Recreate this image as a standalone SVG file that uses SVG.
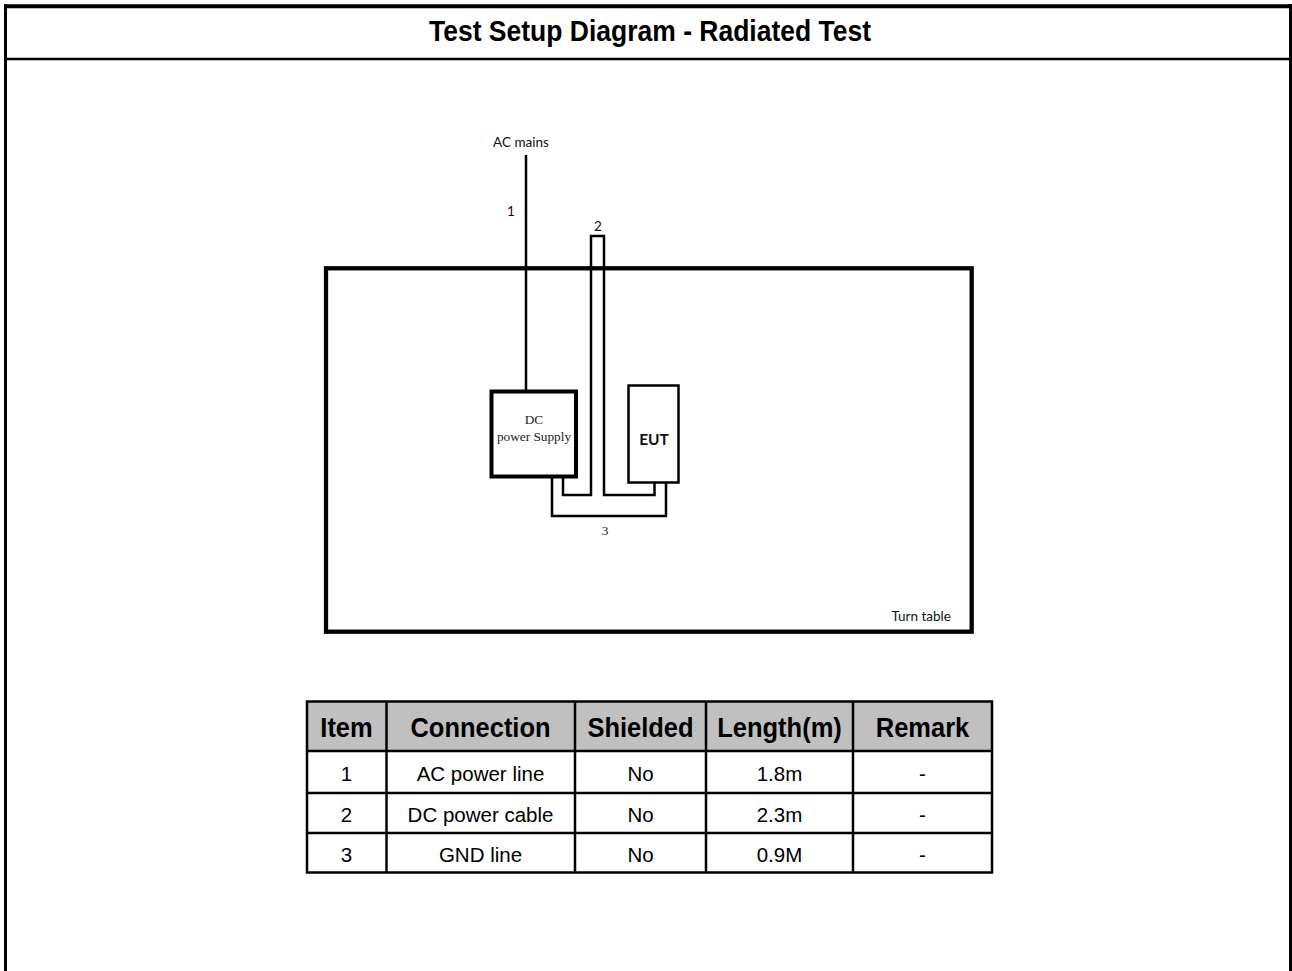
<svg xmlns="http://www.w3.org/2000/svg" width="1292" height="971" viewBox="0 0 1292 971">
<style>
.frame{stroke:#000;fill:none}
.wire{stroke:#000;stroke-width:2.5;fill:none}
.hdr{font-family:"Liberation Sans",Arial,sans-serif;font-weight:bold;font-size:25.5px;text-anchor:middle}
.cell{font-family:"Liberation Sans",Arial,sans-serif;font-size:20.5px;text-anchor:middle}
.lbl{font-family:Lato,"Open Sans",sans-serif;font-size:13.5px;fill:#111}
.serif{font-family:"Liberation Serif","Times New Roman",serif;font-size:13.3px;fill:#222;text-anchor:middle}
.grid{stroke:#000;stroke-width:2.5;fill:none}
</style>
<rect x="0" y="0" width="1292" height="971" fill="#fff"/>
<g id="frame">
<line class="frame" x1="4" y1="6.3" x2="1292" y2="6.3" stroke-width="4"/>
<line class="frame" x1="5.5" y1="4.3" x2="5.5" y2="971" stroke-width="3"/>
<line class="frame" x1="1290.5" y1="4.3" x2="1290.5" y2="971" stroke-width="3"/>
<line class="frame" x1="4" y1="59" x2="1292" y2="59" stroke-width="2.5"/>
<text transform="translate(650,40.5) scale(1,1.1)" font-family="Liberation Sans,Arial,sans-serif" font-weight="bold" font-size="26.5" text-anchor="middle">Test Setup Diagram - Radiated Test</text>
</g>
<g id="turntable">
<rect x="326" y="268.3" width="645.7" height="363.4" fill="none" stroke="#000" stroke-width="4.3"/>
<text class="lbl" x="891.5" y="620.5">Turn table</text>
</g>
<g id="connectors">
<line class="wire" x1="526" y1="155" x2="526" y2="390"/>
<polyline class="wire" points="563,478 563,495 591,495 591,236 604,236 604,495 654.5,495 654.5,483"/>
<polyline class="wire" points="552,478 552,516 666,516 666,483"/>
</g>
<g id="labels">
<text class="lbl" x="521" y="147" text-anchor="middle" font-size="12.5">AC mains</text>
<text class="lbl" x="511" y="216" text-anchor="middle" font-size="12">1</text>
<text class="lbl" x="598" y="231" text-anchor="middle" font-size="13">2</text>
<text class="serif" x="605" y="535" font-size="14">3</text>
</g>
<g id="dc-power-supply">
<rect x="491.5" y="391.5" width="84.5" height="85" fill="#fff" stroke="#000" stroke-width="4"/>
<text class="serif" x="534" y="424">DC</text>
<text class="serif" x="534" y="441">power Supply</text>
</g>
<g id="eut">
<rect x="628.5" y="385.5" width="50" height="97" fill="#fff" stroke="#000" stroke-width="2.5"/>
<text x="654" y="445" font-family="Lato,'Open Sans',sans-serif" font-size="15.5" font-weight="bold" text-anchor="middle" fill="#111">EUT</text>
</g>
<g id="table">
<rect x="307" y="701.5" width="685" height="49" fill="#c0c0c0"/>
<rect x="307" y="701.5" width="685" height="171" class="grid" stroke-width="3"/>
<line class="grid" x1="307" y1="751" x2="992" y2="751"/>
<line class="grid" x1="307" y1="793" x2="992" y2="793"/>
<line class="grid" x1="307" y1="833" x2="992" y2="833"/>
<line class="grid" x1="386.5" y1="701.5" x2="386.5" y2="872.5"/>
<line class="grid" x1="575" y1="701.5" x2="575" y2="872.5"/>
<line class="grid" x1="706" y1="701.5" x2="706" y2="872.5"/>
<line class="grid" x1="853" y1="701.5" x2="853" y2="872.5"/>
<text class="hdr" transform="translate(346.5,737) scale(1,1.1)">Item</text>
<text class="hdr" transform="translate(480.5,737) scale(1,1.1)">Connection</text>
<text class="hdr" transform="translate(640.5,737) scale(1,1.1)">Shielded</text>
<text class="hdr" transform="translate(779.5,737) scale(1,1.1)">Length(m)</text>
<text class="hdr" transform="translate(922.5,737) scale(1,1.1)">Remark</text>
<text class="cell" x="346.5" y="781">1</text>
<text class="cell" x="480.5" y="781">AC power line</text>
<text class="cell" x="640.5" y="781">No</text>
<text class="cell" x="779.5" y="781">1.8m</text>
<text class="cell" x="922.5" y="781">-</text>
<text class="cell" x="346.5" y="822">2</text>
<text class="cell" x="480.5" y="822">DC power cable</text>
<text class="cell" x="640.5" y="822">No</text>
<text class="cell" x="779.5" y="822">2.3m</text>
<text class="cell" x="922.5" y="822">-</text>
<text class="cell" x="346.5" y="862">3</text>
<text class="cell" x="480.5" y="862">GND line</text>
<text class="cell" x="640.5" y="862">No</text>
<text class="cell" x="779.5" y="862">0.9M</text>
<text class="cell" x="922.5" y="862">-</text>
</g>
</svg>
